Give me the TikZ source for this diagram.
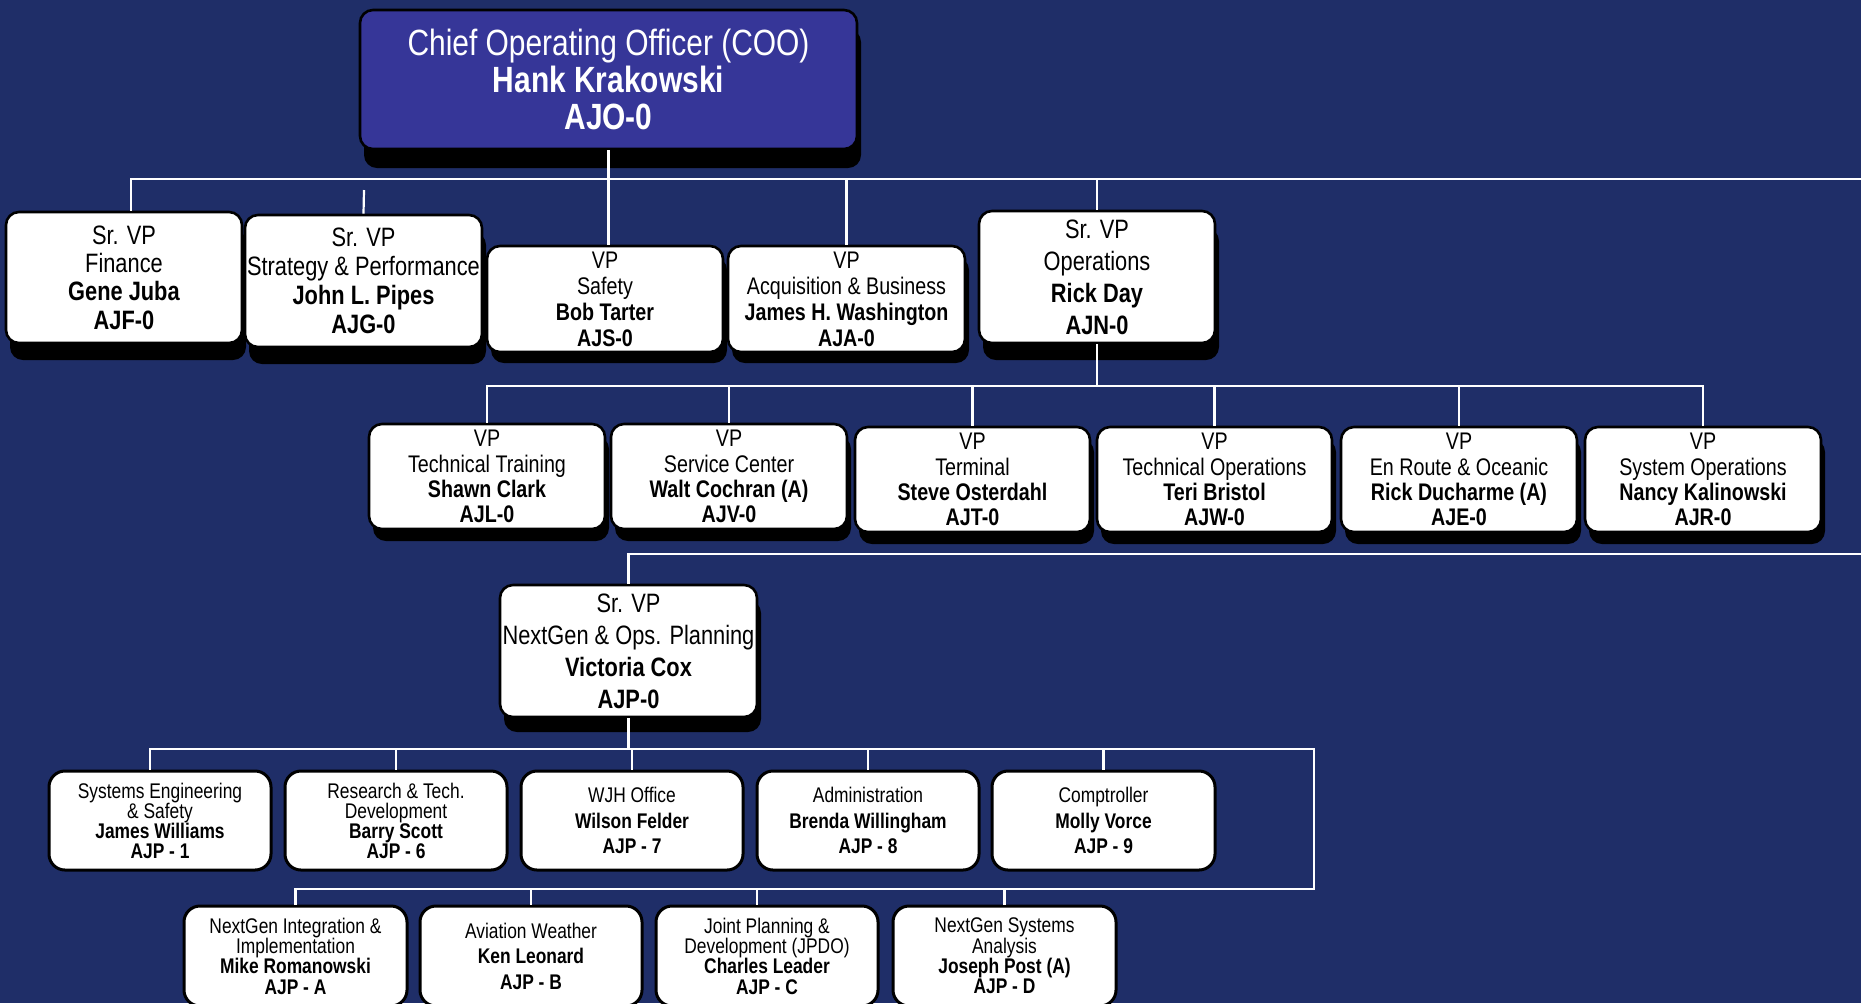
\documentclass[tikz,border=0pt]{standalone}
\usepackage{fontspec}
\setmainfont{Liberation Sans}[FakeStretch=0.82]
\usetikzlibrary{calc,shadows}
\definecolor{bgblue}{RGB}{31,46,104}
\definecolor{coofill}{RGB}{54,54,152}
\newcommand\fsrx[1]{\fontsize{13.3}{#1}\selectfont}
\newcommand\fvpx[1]{\fontsize{12}{#1}\selectfont}
\newcommand\fsmx[1]{\fontsize{10.6}{#1}\selectfont}
\tikzset{
  conn/.style={draw=white, line width=1.1pt},
  box/.style={draw=black, line width=1.3pt, rounded corners=6.5pt, fill=white, align=center, inner sep=0pt, text=black},
  lowbox/.style={box, line width=1.5pt, rounded corners=8pt},
  shadbig/.style={drop shadow={shadow xshift=2pt, shadow yshift=-9.5pt, fill=black, opacity=1}},
  shadsr/.style={drop shadow={shadow xshift=2pt, shadow yshift=-8.5pt, fill=black, opacity=1}},
  shadvp/.style={drop shadow={shadow xshift=2pt, shadow yshift=-5.5pt, fill=black, opacity=1}},
  shadrow/.style={drop shadow={shadow xshift=2pt, shadow yshift=-6pt, fill=black, opacity=1}},
  shadng/.style={drop shadow={shadow xshift=2pt, shadow yshift=-7.5pt, fill=black, opacity=1}},
  sz/.style 2 args={minimum width=#1*0.5pt, minimum height=#2*0.5pt},
  fcoo/.style={font=\fontsize{18.25}{18.6}\selectfont},
}
\begin{document}
\begin{tikzpicture}[x=0.5pt, y=-0.5pt]
\useasboundingbox (0,0) rectangle (1861,1003);
\fill[bgblue] (0,0) rectangle (1861,1003);
\clip (0,0) rectangle (1861,1003);

% top
\node[box, shadbig, fill=coofill, text=white, fcoo, sz={497}{139}] (coo) at (608.5,79.5)
  {Chief Operating Officer (COO)\\\textbf{Hank Krakowski}\\\textbf{AJO-0}};

% row 1
\node[box, shadsr, font=\fsrx{14.2}, sz={236}{131}] (fin) at (124,277.5)
  {Sr. VP\\Finance\\\textbf{Gene Juba}\\\textbf{AJF-0}};
\node[box, shadsr, font=\fsrx{14.6}, sz={237}{132}] (strat) at (363.5,281)
  {Sr. VP\\Strategy \& Performance\\\textbf{John L. Pipes}\\\textbf{AJG-0}};
\node[box, shadvp, font=\fvpx{13}, sz={236}{106}] (saf) at (605,299)
  {VP\\Safety\\\textbf{Bob Tarter}\\\textbf{AJS-0}};
\node[box, shadvp, font=\fvpx{13}, sz={237}{106}] (acq) at (846.5,299)
  {VP\\Acquisition \& Business\\\textbf{James H. Washington}\\\textbf{AJA-0}};
\node[box, shadsr, font=\fsrx{16}, sz={236}{132}] (ops) at (1097,277)
  {Sr. VP\\Operations\\\textbf{Rick Day}\\\textbf{AJN-0}};

% row 2
\node[box, shadrow, font=\fvpx{12.6}, sz={236}{105}] (tt) at (487,476.5)
  {VP\\Technical Training\\\textbf{Shawn Clark}\\\textbf{AJL-0}};
\node[box, shadrow, font=\fvpx{12.6}, sz={236}{105}] (sc) at (729,476.5)
  {VP\\Service Center\\\textbf{Walt Cochran (A)}\\\textbf{AJV-0}};
\node[box, shadrow, font=\fvpx{12.6}, sz={235}{105}] (term) at (972.5,479.5)
  {VP\\Terminal\\\textbf{Steve Osterdahl}\\\textbf{AJT-0}};
\node[box, shadrow, font=\fvpx{12.6}, sz={235}{105}] (techops) at (1214.5,479.5)
  {VP\\Technical Operations\\\textbf{Teri Bristol}\\\textbf{AJW-0}};
\node[box, shadrow, font=\fvpx{12.6}, sz={236}{105}] (enroute) at (1459,479.5)
  {VP\\En Route \& Oceanic\\\textbf{Rick Ducharme (A)}\\\textbf{AJE-0}};
\node[box, shadrow, font=\fvpx{12.6}, sz={236}{105}] (sysops) at (1703,479.5)
  {VP\\System Operations\\\textbf{Nancy Kalinowski}\\\textbf{AJR-0}};

% NextGen
\node[box, shadng, font=\fsrx{16}, sz={257}{132}] (ng) at (628.5,651)
  {Sr. VP\\NextGen \& Ops. Planning\\\textbf{Victoria Cox}\\\textbf{AJP-0}};

% level 4
\node[lowbox, font=\fsmx{10}, sz={222}{99}] (se) at (160,820.5)
  {Systems Engineering\\\& Safety\\\textbf{James Williams}\\\textbf{AJP - 1}};
\node[lowbox, font=\fsmx{10}, sz={222}{99}] (rtd) at (396,820.5)
  {Research \& Tech.\\Development\\\textbf{Barry Scott}\\\textbf{AJP - 6}};
\node[lowbox, font=\fsmx{12.7}, sz={222}{99}] (wjh) at (632,820.5)
  {WJH Office\\\textbf{Wilson Felder}\\\textbf{AJP - 7}};
\node[lowbox, font=\fsmx{12.7}, sz={222}{99}] (admin) at (868,820.5)
  {Administration\\\textbf{Brenda Willingham}\\\textbf{AJP - 8}};
\node[lowbox, font=\fsmx{12.7}, sz={223}{99}] (comp) at (1103.5,820.5)
  {Comptroller\\\textbf{Molly Vorce}\\\textbf{AJP - 9}};

% level 5
\node[lowbox, font=\fsmx{10.2}, sz={223}{100}] (nia) at (295.5,956)
  {NextGen Integration \&\\Implementation\\\textbf{Mike Romanowski}\\\textbf{AJP - A}};
\node[lowbox, font=\fsmx{12.7}, sz={222}{100}] (aw) at (531,956)
  {Aviation Weather\\\textbf{Ken Leonard}\\\textbf{AJP - B}};
\node[lowbox, font=\fsmx{10.2}, sz={222}{100}] (jpdo) at (767,956)
  {Joint Planning \&\\Development (JPDO)\\\textbf{Charles Leader}\\\textbf{AJP - C}};
\node[lowbox, font=\fsmx{10.2}, sz={223}{100}] (nsa) at (1004.5,956)
  {NextGen Systems\\Analysis\\\textbf{Joseph Post (A)}\\\textbf{AJP - D}};

% connectors level 1
\coordinate (b1R) at (1861,179);
\coordinate (stub) at (364,190);
\draw[conn] ($(fin.north)+(7,0)$) |- (b1R);
\draw[conn] (coo.south) -- (coo.south |- saf.north);
\draw[conn] (acq.north) -- (acq.north |- b1R);
\draw[conn] (ops.north) -- (ops.north |- b1R);
\draw[conn] (stub) -- (strat.north);

% connectors level 2
\coordinate (b2) at (0,386);
\draw[conn] (ops.south) -- (ops.south |- b2);
\draw[conn] (tt.north) |- (sysops.north |- b2) -- (sysops.north);
\draw[conn] (sc.north) -- (sc.north |- b2);
\draw[conn] (term.north) -- (term.north |- b2);
\draw[conn] (techops.north) -- (techops.north |- b2);
\draw[conn] (enroute.north) -- (enroute.north |- b2);

% connector to NextGen
\coordinate (b3R) at (1861,554);
\draw[conn] (ng.north) |- (b3R);

% connectors levels 4 and 5
\coordinate (b4R) at (1314,749);
\coordinate (b5R) at (1314,889);
\draw[conn] (ng.south) -- (ng.south |- b4R);
\draw[conn] ($(se.north)+(-10,0)$) |- (b4R) -- (b5R) -| (nia.north);
\draw[conn] (rtd.north) -- (rtd.north |- b4R);
\draw[conn] (wjh.north) -- (wjh.north |- b4R);
\draw[conn] (admin.north) -- (admin.north |- b4R);
\draw[conn] (comp.north) -- (comp.north |- b4R);
\draw[conn] (aw.north) -- (aw.north |- b5R);
\draw[conn] ($(jpdo.north)+(-10,0)$) -- ($(jpdo.north |- b5R)+(-10,0)$);
\draw[conn] (nsa.north) -- (nsa.north |- b5R);
\end{tikzpicture}
\end{document}
